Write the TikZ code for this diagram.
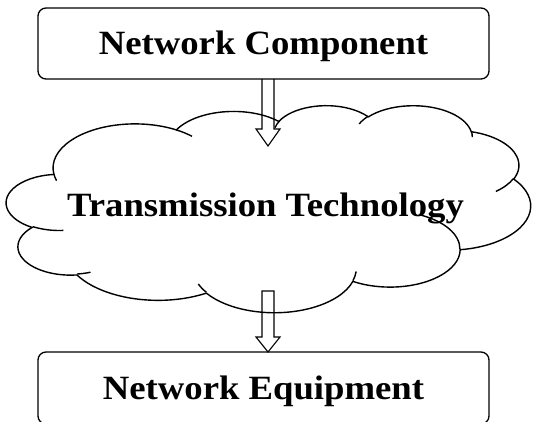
\documentclass[tikz,border=0pt]{standalone}
\usepackage{fontspec}
\setmainfont{Liberation Serif}[FakeStretch=1.08]
\usetikzlibrary{calc}
\tikzset{
  box/.style={draw, rounded corners=8pt, line width=1.3pt, minimum width=451pt,
    inner sep=0pt, outer sep=0pt, text height=22.5pt, text depth=0pt,
    font=\bfseries\fontsize{34}{40}\selectfont},
  cloudtext/.style={inner sep=0pt, anchor=base, font=\bfseries\fontsize{34}{40}\selectfont},
  blk/.style={draw, line width=1.1pt, line join=miter},
  cloudline/.style={draw, line width=1.4pt},
  carc/.style n args={4}{
    start angle={-atan2((#1)*sin(#3),(#2)*cos(#3))},
    delta angle={-mod(atan2((#1)*sin((#3)+(#4)),(#2)*cos((#3)+(#4)))-atan2((#1)*sin(#3),(#2)*cos(#3))+720,360)},
    x radius={(#1)*0.121296pt}, y radius={(#2)*0.0479167pt}}
}
\begin{document}
\begin{tikzpicture}[x=1pt,y=1pt]
\useasboundingbox (0,0) rectangle (534,421);
% boxes
\node[box, minimum height=71pt] (top) at (263.5,377.5) {Network Component};
\node[box, minimum height=72pt] (bottom) at (263.5,33) {Network Equipment};
% cloud
\begin{scope}[shift={(6.5,316)}, x=0.121296pt, y=-0.0479167pt]
\draw[cloudline] (390,1437)
  arc[carc={675.3}{919.0}{-190.4875}{123.7805}]
  arc[carc={533.3}{726.7}{-144.1024}{89.9452}]
  arc[carc={436.5}{594.5}{-145.8079}{99.7230}]
  arc[carc={485.7}{659.5}{-130.9861}{117.2417}]
  arc[carc={533.3}{727.3}{-78.7089}{109.0269}]
  arc[carc={677.5}{922.0}{-46.2673}{130.2690}]
  arc[carc={578.5}{786.7}{0.6250}{114.0333}]
  arc[carc={675.2}{921.5}{22.4516}{115.1726}]
  arc[carc={772.0}{1054.3}{66.2426}{75.7110}]
  arc[carc={436.0}{591.8}{-274.9421}{146.7356}]
  arc[carc={434.5}{594.5}{-246.8285}{152.5189}]
  -- cycle;
\draw[cloudline]
  (469.3,2617.7) arc[carc={434.5}{594.5}{86.742}{26.4295}]
  (692.8,3489.9) arc[carc={436.0}{591.8}{73.6105}{11.4475}]
  (1647.8,3909.0) arc[carc={675.2}{921.5}{137.6242}{14.0811}]
  (2882.7,3475.1) arc[carc={675.2}{921.5}{6.4533}{15.9984}]
  (3412.9,2295.4) arc[carc={578.5}{786.7}{-70.2924}{70.9174}]
  (4179.8,1535.4) arc[carc={533.3}{727.3}{30.3180}{27.7515}]
  (3832.4,542.6) arc[carc={485.7}{659.5}{-13.7443}{14.8589}]
  (2907.8,395.2) arc[carc={485.7}{659.5}{-149.1815}{18.1954}]
  (2214.1,472.0) arc[carc={436.5}{594.5}{-163.4943}{17.6864}]
  (1400.0,519.2) arc[carc={675.3}{919.0}{-66.7070}{12.3194}]
  (412.7,1578.9) arc[carc={675.3}{919.0}{157.6544}{11.8582}];
\end{scope}
\node[cloudtext] (cloud) at (265.5,204.3) {Transmission Technology};
% arrows
\coordinate (ta) at (268,275);
\draw[blk] ($(top.south -| ta)+(-6,0)$) -- ($(ta)+(-6,17)$) -- ($(ta)+(-12,17)$) -- (ta)
  -- ($(ta)+(12,17)$) -- ($(ta)+(6,17)$) -- ($(top.south -| ta)+(6,0)$);
\coordinate (ba) at (268,130);
\draw[blk] ($(ba)+(-6,0)$) -- ($(bottom.north -| ba)+(-6,15)$) -- ($(bottom.north -| ba)+(-12,15)$)
  -- (bottom.north -| ba) -- ($(bottom.north -| ba)+(12,15)$) -- ($(bottom.north -| ba)+(6,15)$)
  -- ($(ba)+(6,0)$) -- cycle;
\end{tikzpicture}
\end{document}
